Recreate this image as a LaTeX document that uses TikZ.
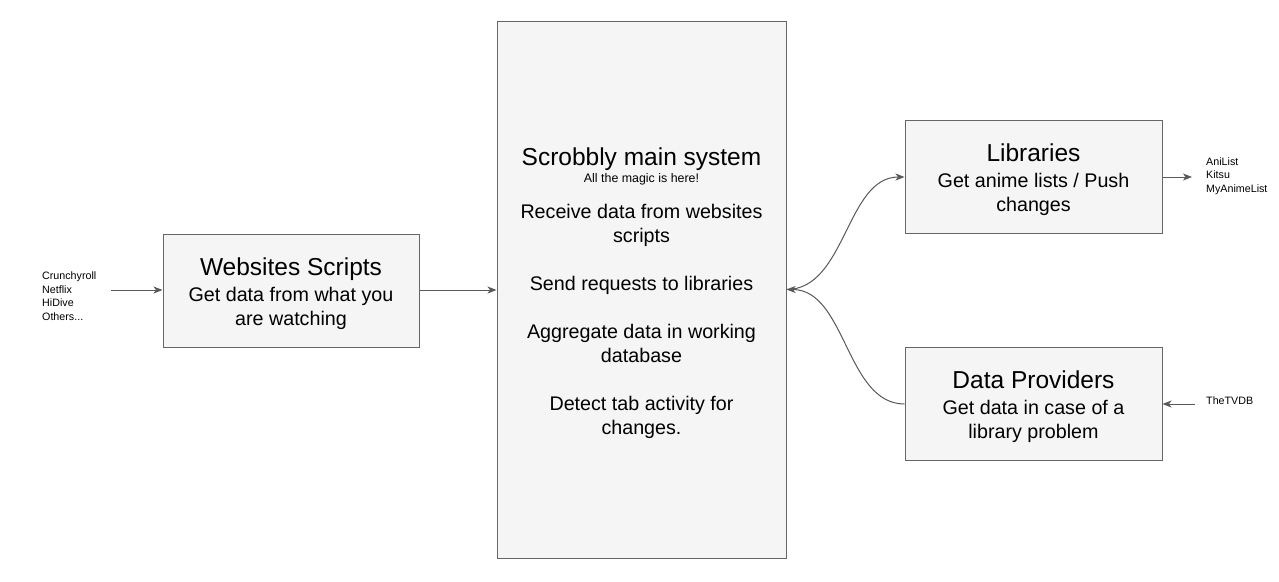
\documentclass[tikz,border=0pt]{standalone}
\usepackage{fontspec}
\setmainfont{Liberation Sans}
\usetikzlibrary{arrows.meta}
\definecolor{boxfill}{HTML}{F5F5F5}
\definecolor{boxline}{HTML}{666666}
\definecolor{edgecol}{HTML}{595959}
\tikzset{
 box/.style={draw=boxline, fill=boxfill, line width=1pt, inner sep=0pt, align=center, text=black, font=\fontsize{19.7}{24}\selectfont},
 conn/.style={draw=edgecol, line width=1pt, -{Stealth[length=9pt,width=7pt,inset=2.5pt]}},
 small/.style={align=left, anchor=west, inner sep=0pt, text=black, font=\fontsize{10.7}{13.5}\selectfont}
}
\newcommand{\ttl}[1]{{\fontsize{24.5}{28}\selectfont\rule{0pt}{25pt}#1}}
\begin{document}
\begin{tikzpicture}[x=1pt,y=-1pt]
\useasboundingbox[fill=white] (0,0) rectangle (1279,581);
\node[box, minimum width=256pt, minimum height=113pt] (web) at (291,290.5)
 {\ttl{Websites Scripts}\\[2pt]Get data from what you\\are watching};
\node[box, minimum width=289pt, minimum height=537pt] (main) at (641.5,289.5)
 {\ttl{Scrobbly main system}\\[-6.5pt]{\fontsize{12.4}{14}\selectfont All the magic is here!}\\[12pt]Receive data from websites\\scripts\\[24pt]Send requests to libraries\\[24pt]Aggregate data in working\\database\\[24pt]Detect tab activity for\\changes.};
\node[box, minimum width=257pt, minimum height=113pt] (lib) at (1033.5,176.5)
 {\ttl{Libraries}\\[2pt]Get anime lists / Push\\changes};
\node[box, minimum width=257pt, minimum height=113pt] (prov) at (1033.5,403.5)
 {\ttl{Data Providers}\\[2pt]Get data in case of a\\library problem};
\node[small] (sites) at (42,296) {Crunchyroll\\Netflix\\HiDive\\Others...};
\node[small] (libs) at (1206,176) {AniList\\Kitsu\\MyAnimeList};
\node[small] (tvdb) at (1206,400.5) {TheTVDB};
\coordinate (sitesout) at (111,290);
\coordinate (libsin) at (1192,177);
\coordinate (tvdbout) at (1195,404);
\draw[conn] (sitesout) -- (web.west |- sitesout);
\draw[conn] (web.east |- 0,290) -- (main.west |- 0,290);
\draw[conn] (main.east) .. controls (846,289.5) and (846,177) .. (lib.west |- 0,177);
\draw[conn] (prov.west |- 0,404) .. controls (846,404) and (846,289.5) .. (main.east);
\draw[conn] (lib.east |- 0,177) -- (libsin);
\draw[conn] (tvdbout) -- (prov.east |- 0,404);
\end{tikzpicture}
\end{document}
